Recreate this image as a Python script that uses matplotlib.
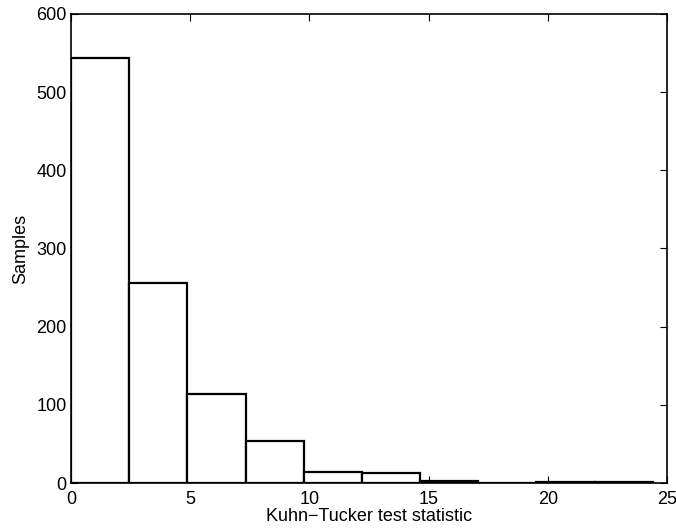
import numpy as np
import matplotlib
matplotlib.use("Agg")
import matplotlib.pyplot as plt

plt.rcParams['font.family'] = ['Liberation Sans', 'DejaVu Sans']

# histogram of 1000 samples, 10 bins from 0 to 24.4
bin_edges = [0, 2.44, 4.88, 7.32, 9.76, 12.2, 14.64, 17.08, 19.52, 21.96, 24.4]
counts = [544, 256, 114, 54, 14, 13, 3, 0, 1, 1]

fig = plt.figure(figsize=(6.76, 5.30), dpi=100)
ax = fig.add_axes([71 / 676, 1 - 483 / 530, 596 / 676, 469 / 530])

widths = np.diff(bin_edges)
ax.bar(bin_edges[:-1], counts, width=widths, align='edge',
       facecolor='white', edgecolor='black', linewidth=1.6, zorder=2)

ax.set_xlim(0, 25)
ax.set_ylim(0, 600)
ax.set_xticks([0, 5, 10, 15, 20, 25])
ax.set_yticks([0, 100, 200, 300, 400, 500, 600])
ax.tick_params(direction='in', top=True, right=True, length=5, width=0.8,
               labelsize=13)
ax.tick_params(axis='x', pad=6)
ax.tick_params(axis='y', pad=3)
for s in ax.spines.values():
    s.set_linewidth(1.2)
    s.set_zorder(3)

ax.set_xlabel("Kuhn\u2212Tucker test statistic", fontsize=13, labelpad=0)
ax.set_ylabel("Samples", fontsize=13, labelpad=5)

fig.savefig("out.png", dpi=100)
